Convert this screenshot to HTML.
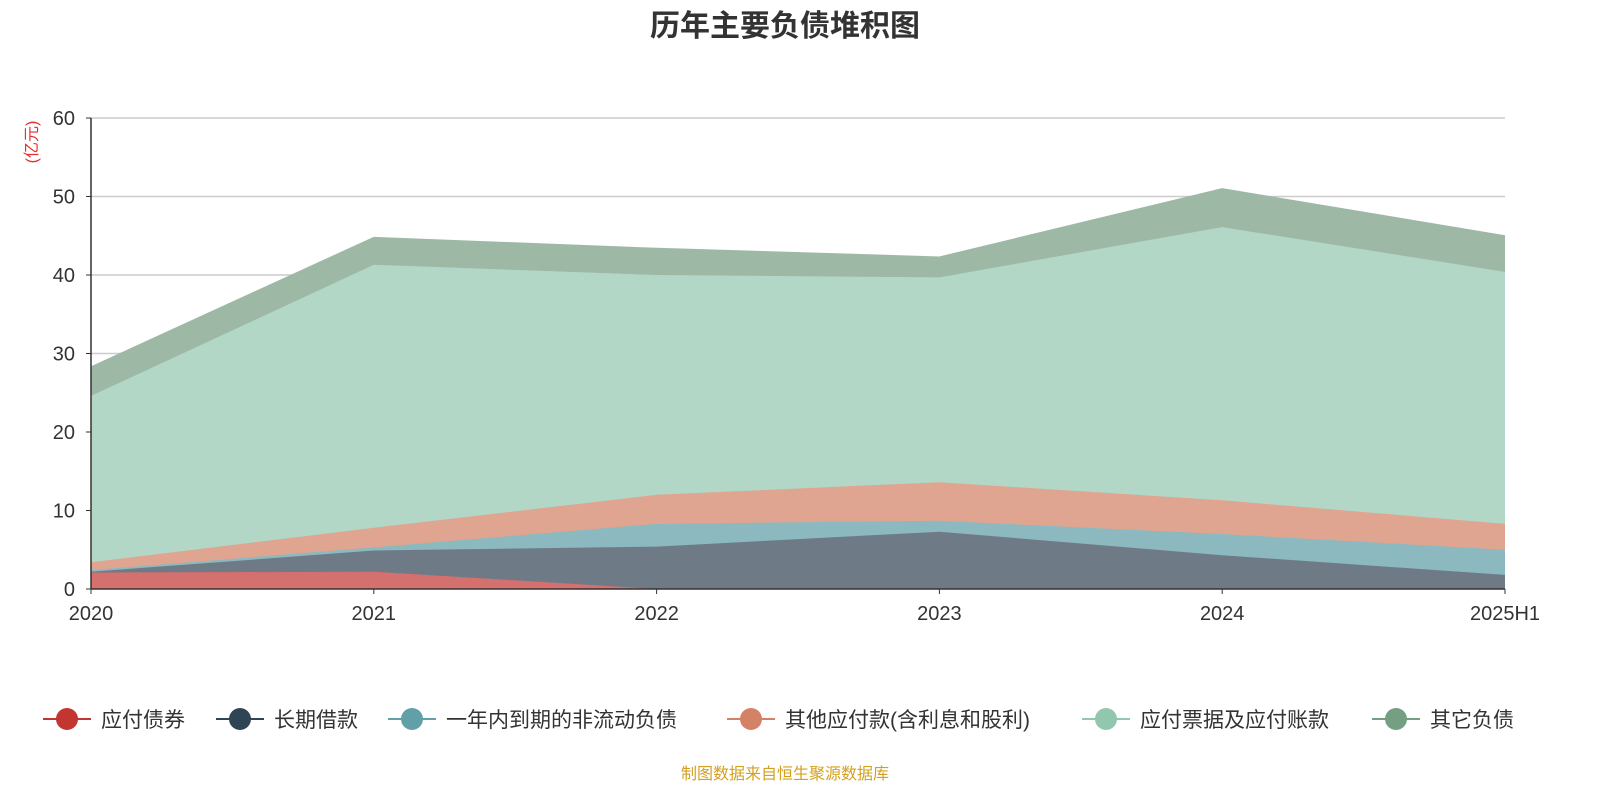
<!DOCTYPE html>
<html><head><meta charset="utf-8">
<style>
body{margin:0;background:#fff;font-family:"Liberation Sans","Noto Sans CJK SC",sans-serif;}
svg text{font-family:"Liberation Sans","Noto Sans CJK SC",sans-serif;}
</style></head>
<body>
<svg width="1600" height="800" viewBox="0 0 1600 800">
<text x="785" y="36" text-anchor="middle" font-size="30" font-weight="bold" fill="#333">历年主要负债堆积图</text>
<text transform="translate(37,142) rotate(-90)" text-anchor="middle" font-size="16" fill="#e03030">(亿元)</text>
<g id="grid"></g>
<g id="areas"></g>
<g id="axes"></g>
<g id="legend"></g>
<text x="785" y="779" text-anchor="middle" font-size="16" fill="#d4a020">制图数据来自恒生聚源数据库</text>
</svg>
<script>
const categories=["2020","2021","2022","2023","2024","2025H1"];
const seriesNames=["应付债券","长期借款","一年内到期的非流动负债","其他应付款(含利息和股利)","应付票据及应付账款","其它负债"];
const bonds=[2.1,2.2,0,0,0,0];
const longLoans=[0.1,2.7,5.4,7.3,4.3,1.8];
const currentNonCurrent=[0.2,0.4,2.9,1.4,2.7,3.2];
const otherPayables=[1.0,2.5,3.7,4.9,4.3,3.3];
const notesPayables=[21.2,33.5,28.0,26.1,34.8,32.1];
const otherLiab=[3.7,3.5,3.4,2.6,4.9,4.6];
const yTicks=[0,10,20,30,40,50,60];
const series=[bonds,longLoans,currentNonCurrent,otherPayables,notesPayables,otherLiab];
const areaColors=["#d4706e","#6e7b86","#8cb9c0","#e0a590","#b2d7c7","#9db8a5"];
const lineColors=["#c23531","#2f4554","#61a0a8","#d48265","#91c7ae","#749f83"];
const NS="http://www.w3.org/2000/svg";
const x0=91,x1=1505,yBase=589,yTop=118,yMax=60;
const xs=i=>x0+(x1-x0)*i/(categories.length-1);
const ys=v=>yBase-(yBase-yTop)*v/yMax;
function mk(tag,attrs,parent){const e=document.createElementNS(NS,tag);for(const k in attrs)e.setAttribute(k,attrs[k]);parent.appendChild(e);return e;}
const grid=document.getElementById('grid'),areas=document.getElementById('areas'),axes=document.getElementById('axes'),legend=document.getElementById('legend');
yTicks.forEach(t=>{
  if(t>0){const l=mk('line',{x1:x0,x2:x1,y1:ys(t),y2:ys(t),stroke:'#ccc','stroke-width':1.5},grid);
  
  }
  const tx=mk('text',{x:75,y:ys(t)+7,'text-anchor':'end','font-size':20,fill:'#333'},axes);tx.textContent=t;
  
  
  mk('line',{x1:x0-5,x2:x0,y1:ys(t),y2:ys(t),stroke:'#333'},axes);
});
let cum=categories.map(()=>0);
series.forEach((s,k)=>{
  const lower=cum.slice();const upper=cum.map((c,i)=>c+s[i]);
  let d='';upper.forEach((v,i)=>{d+=(i?'L':'M')+xs(i)+','+ys(v);});
  for(let i=lower.length-1;i>=0;i--)d+='L'+xs(i)+','+ys(lower[i]);
  const p=mk('path',{d:d+'Z',fill:areaColors[k],stroke:'none'},areas);
  
  
  let ld='';upper.forEach((v,i)=>{ld+=(i?'L':'M')+xs(i)+','+ys(v);});
  mk('path',{d:ld,fill:'none',stroke:areaColors[k],'stroke-width':1},areas);
  cum=upper;
});
mk('line',{x1:x0,x2:x0,y1:yTop,y2:yBase,stroke:'#333','stroke-width':1.5},axes);
mk('line',{x1:x0,x2:x1,y1:yBase,y2:yBase,stroke:'#333','stroke-width':1.5},axes);
categories.forEach((c,i)=>{
  mk('line',{x1:xs(i),x2:xs(i),y1:yBase,y2:yBase+5,stroke:'#333'},axes);
  const t=mk('text',{x:xs(i),y:620,'text-anchor':i==categories.length-1?'middle':'middle','font-size':20,fill:'#333'},axes);t.textContent=c;
  
  
});
const legX=[43,216,388,727,1082,1372];
seriesNames.forEach((n,k)=>{
  const g=mk('g',{},legend);
  
  
  const x=legX[k];
  mk('line',{x1:x,x2:x+48,y1:719,y2:719,stroke:lineColors[k],'stroke-width':2},g);
  mk('circle',{cx:x+24,cy:719,r:11,fill:lineColors[k]},g);
  const t=mk('text',{x:x+58,y:727,'font-size':21,fill:'#333'},g);t.textContent=n;
});
</script>
</body></html>
